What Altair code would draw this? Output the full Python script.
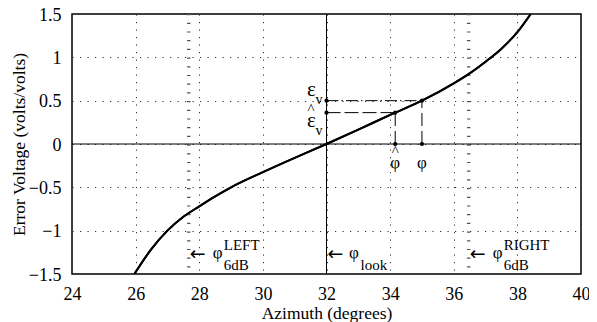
import altair as alt
import pandas as pd

# ---- data ----
curve_x = [25.96, 26.5, 27.0, 27.5, 28.0, 28.5, 29.0, 30.0, 31.0, 32.0, 33.0, 34.0, 35.0, 36.0, 36.5, 37.0, 37.5, 38.0, 38.42]
curve_y = [-1.5, -1.21, -1.0, -0.84, -0.72, -0.605, -0.50, -0.325, -0.16, 0.0, 0.166, 0.336, 0.5, 0.70, 0.815, 0.95, 1.10, 1.29, 1.5]
x_ticks = [24, 26, 28, 30, 32, 34, 36, 38, 40]
y_ticks = [-1.5, -1, -0.5, 0, 0.5, 1, 1.5]
look_az = 32.0
edge_az = [27.67, 36.47]          # 6 dB beam edges
edge_names = ["LEFT", "RIGHT"]
phi_true = 35.0
phi_hat = 34.16
eps_true = 0.5
eps_hat = 0.362
label_level = -1.27

FONT = "Liberation Serif"
xs = alt.Scale(domain=[24, 40], nice=False, zero=False)
ys = alt.Scale(domain=[-1.5, 1.5], nice=False, zero=False)


def X(field="x"):
    return alt.X(f"{field}:Q", scale=xs)


def Y(field="y"):
    return alt.Y(f"{field}:Q", scale=ys)


curve_df = pd.DataFrame({"x": curve_x, "y": curve_y})

curve = alt.Chart(curve_df).mark_line(color="black", strokeWidth=2, interpolate="monotone", clip=True).encode(
    x=alt.X("x:Q", scale=xs, title="Azimuth (degrees)",
            axis=alt.Axis(values=x_ticks, format="~g", labelPadding=11, titlePadding=1, labelFlush=False)),
    y=alt.Y("y:Q", scale=ys, title="Error Voltage (volts/volts)",
            axis=alt.Axis(values=y_ticks, format="~g", labelPadding=11, titlePadding=0,
                          labelFlush=False, labelBaseline="middle", labelOffset=1)),
)

edges = alt.Chart(pd.DataFrame({"x": edge_az})).mark_rule(
    color="#555", strokeWidth=3.5, strokeDash=[1.2, 7.5]).encode(x=X())

zero_line = alt.Chart(pd.DataFrame({"y": [0.0]})).mark_rule(color="black", strokeWidth=1).encode(y=Y())
look_line = alt.Chart(pd.DataFrame({"x": [look_az]})).mark_rule(color="black", strokeWidth=1).encode(x=X())

eps_line = alt.Chart(pd.DataFrame({"x": [look_az], "x2": [phi_true], "y": [eps_true]})).mark_rule(
    color="black", strokeWidth=1, strokeDash=[12, 3, 1.5, 3]).encode(x=X(), x2="x2:Q", y=Y())
epshat_line = alt.Chart(pd.DataFrame({"x": [look_az], "x2": [phi_hat], "y": [eps_hat]})).mark_rule(
    color="black", strokeWidth=1, strokeDash=[14, 4]).encode(x=X(), x2="x2:Q", y=Y())
vert_lines = alt.Chart(pd.DataFrame({"x": [phi_true, phi_hat], "y": [0.0, 0.0], "y2": [eps_true, eps_hat]})).mark_rule(
    color="black", strokeWidth=1, strokeDash=[13, 5]).encode(x=X(), y=Y(), y2="y2:Q")

pts = alt.Chart(pd.DataFrame({
    "x": [look_az, phi_true, look_az, phi_hat, phi_hat, phi_true],
    "y": [eps_true, eps_true, eps_hat, eps_hat, 0.0, 0.0],
})).mark_circle(color="black", size=18, opacity=1).encode(x=X(), y=Y())


def txt(x, y, s, size, dx=0, dy=0, align="center", baseline="middle", font=FONT):
    return alt.Chart(pd.DataFrame({"x": [x], "y": [y], "t": [s]})).mark_text(
        font=font, fontSize=size, color="black", dx=dx, dy=dy, align=align, baseline=baseline
    ).encode(x=X(), y=Y(), text="t:N")


ARROW_FONT = "DejaVu Sans"
texts = [
    # epsilon labels
    txt(look_az, eps_true, "ε", 21, dx=-15, dy=-11),
    txt(look_az, eps_true, "v", 14, dx=-7.5, dy=-1),
    txt(look_az, eps_hat, "^", 15, dx=-15.5, dy=-4),
    txt(look_az, eps_hat, "ε", 21, dx=-15, dy=8),
    txt(look_az, eps_hat, "v", 14, dx=-7.5, dy=18),
    # phi labels
    txt(phi_hat, 0.0, "^", 15, dx=0, dy=7),
    txt(phi_hat, 0.0, "φ", 17, dx=0, dy=19),
    txt(phi_true, 0.0, "φ", 17, dx=0, dy=19),
    # look direction
    txt(look_az, label_level, "←", 19, dx=1, align="left", font=ARROW_FONT),
    txt(look_az, label_level, "φ", 17, dx=27.5, dy=-1),
    txt(look_az, label_level, "look", 15, dx=34, dy=16, align="left", baseline="alphabetic"),
]
for az, name in zip(edge_az, edge_names):
    texts += [
        txt(az, label_level, "←", 19, dx=1, align="left", font=ARROW_FONT),
        txt(az, label_level, "φ", 17, dx=29, dy=-1),
        txt(az, label_level, name, 15, dx=35, dy=-4, align="left", baseline="alphabetic"),
        txt(az, label_level, "6dB", 15, dx=35, dy=16, align="left", baseline="alphabetic"),
    ]

chart = alt.layer(
    curve, edges, zero_line, look_line, eps_line, epshat_line, vert_lines, curve, pts, *texts
).properties(
    width=509, height=260,
    autosize=alt.AutoSizeParams(type="none"),
    padding={"left": 64, "top": 6, "right": 8, "bottom": 48},
    background="white",
).configure_view(
    stroke="black", strokeWidth=1.5
).configure_axis(
    domain=False, ticks=False, grid=True, gridDash=[1.2, 6.3], gridColor="#333",
    gridWidth=1, gridOpacity=1, labelFont=FONT, labelFontSize=18, labelColor="black",
    titleFont=FONT, titleFontSize=17.5, titleFontWeight="normal", titleColor="black",
)

chart.save("out.html", embed_options={"renderer": "svg", "actions": False})
